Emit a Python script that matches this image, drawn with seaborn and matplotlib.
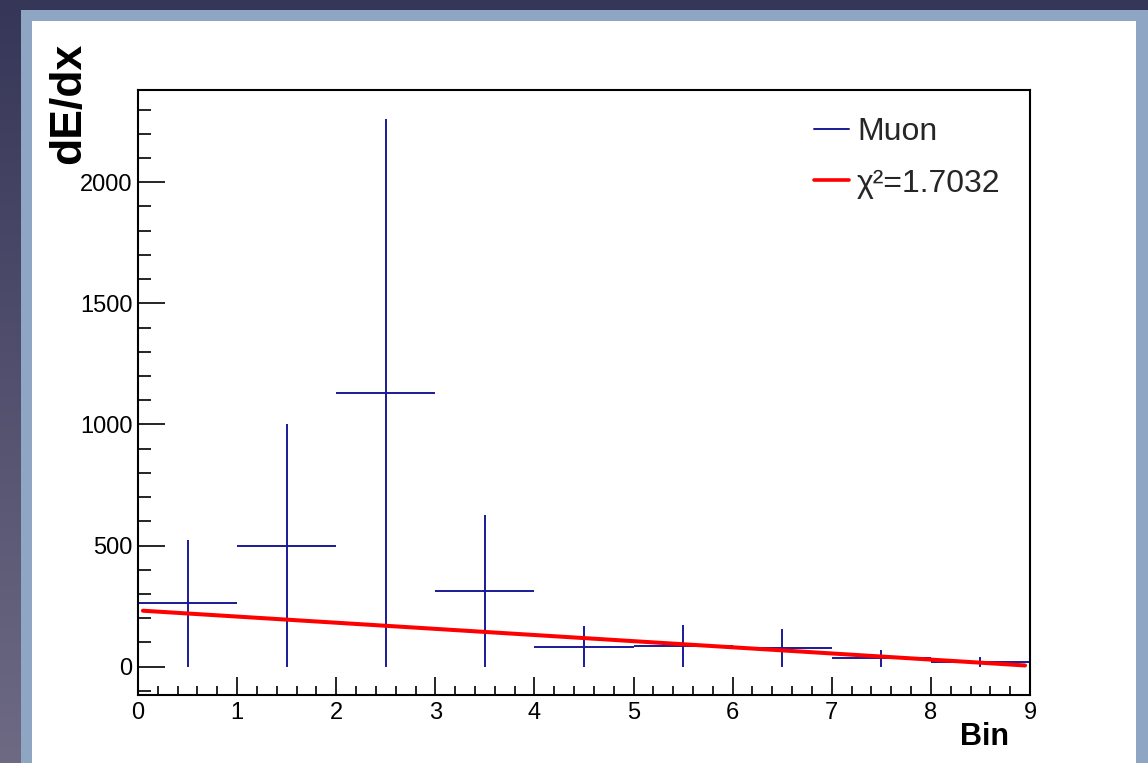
import numpy as np
import matplotlib
matplotlib.use("Agg")
import matplotlib.pyplot as plt
from matplotlib.lines import Line2D
from matplotlib.patches import Rectangle
import seaborn as sns
import pandas as pd

# ---- data ----
bin_centers = [0.5, 1.5, 2.5, 3.5, 4.5, 5.5, 6.5, 7.5, 8.5]
dedx_values = [261, 500, 1130, 313, 83, 87, 78, 34, 20]
dedx_errors = [261, 500, 1130, 313, 83, 87, 78, 34, 20]
bin_half_width = [0.5] * 9
fit_x = [0.05, 8.95]
fit_y = [231, 5]
legend_labels = ["Muon", "\u03c7\u00b2=1.7032"]
x_label = "Bin"
y_label = "dE/dx"

sns.set_theme(style="ticks")
plt.rcParams['font.family'] = ['Liberation Sans', 'DejaVu Sans']

W, H = 1148, 763
fig = plt.figure(figsize=(W / 100, H / 100), dpi=100)

# background window decoration
bg = fig.add_axes([0, 0, 1, 1], zorder=-10)
grad = np.linspace(0, 1, 256).reshape(-1, 1)
top_c = np.array([0x36, 0x36, 0x58]) / 255
bot_c = np.array([0x6e, 0x6a, 0x84]) / 255
img = top_c[None, None, :] * (1 - grad[:, :, None]) + bot_c[None, None, :] * grad[:, :, None]
bg.imshow(img, aspect='auto', extent=[0, 1, 0, 1], origin='upper')
bg.add_patch(Rectangle((21 / W, 0), 1 - 21 / W, 1 - 10 / H, transform=bg.transAxes,
                       facecolor='#8fa5c4', edgecolor='none'))
bg.add_patch(Rectangle((32 / W, 0), (1136 - 32) / W, 1 - 21 / H, transform=bg.transAxes,
                       facecolor='white', edgecolor='none'))
bg.set_xlim(0, 1); bg.set_ylim(0, 1)
bg.axis('off')

ax = fig.add_axes([138 / W, (H - 695) / H, (1030 - 138) / W, (695 - 90) / H])
ax.set_facecolor('white')

blue = '#1a1a98'
red = '#ff0000'

ax.errorbar(bin_centers, dedx_values, xerr=bin_half_width, yerr=dedx_errors,
            fmt='none', ecolor=blue, elinewidth=1.4, capsize=0, zorder=2)
fit_df = pd.DataFrame({"x": fit_x, "y": fit_y})
sns.lineplot(data=fit_df, x="x", y="y", ax=ax, color=red, linewidth=2.9, zorder=3)

ax.set_xlim(0, 9)
ax.set_ylim(-117, 2381)
ax.set_xticks(range(0, 10))
ax.set_xticks(np.arange(0, 9.01, 0.2), minor=True)
ax.set_yticks([0, 500, 1000, 1500, 2000])
ax.set_yticks(np.arange(-100, 2381, 100), minor=True)
ax.set_xlabel("")
ax.set_ylabel("")

for s in ax.spines.values():
    s.set_color('black')
    s.set_linewidth(1.5)

ax.tick_params(axis='both', which='both', direction='in', colors='black',
               labelsize=17, width=1.2, top=False, right=False)
ax.tick_params(axis='y', which='major', length=19.5, pad=4)
ax.tick_params(axis='y', which='minor', length=9.5)
ax.tick_params(axis='x', which='major', length=13, pad=5)
ax.tick_params(axis='x', which='minor', length=6.5)

handles = [Line2D([], [], color=blue, lw=1.4), Line2D([], [], color=red, lw=2.6)]
ax.legend(handles, legend_labels, loc='center left',
          bbox_to_anchor=((814 - 138) / 892, (695 - 158) / 605),
          frameon=False, fontsize=23, handlelength=1.1, handletextpad=0.25,
          labelspacing=0.66, borderpad=0, borderaxespad=0)

fig.text(68.5 / W, 1 - 43 / H, y_label, rotation=90, ha='center', va='top',
         fontsize=32, fontweight='bold', color='black')
fig.text(1009 / W, 1 - 745 / H, x_label, ha='right', va='baseline',
         fontsize=22, fontweight='bold', color='black')

fig.savefig("out.png", dpi=100)
